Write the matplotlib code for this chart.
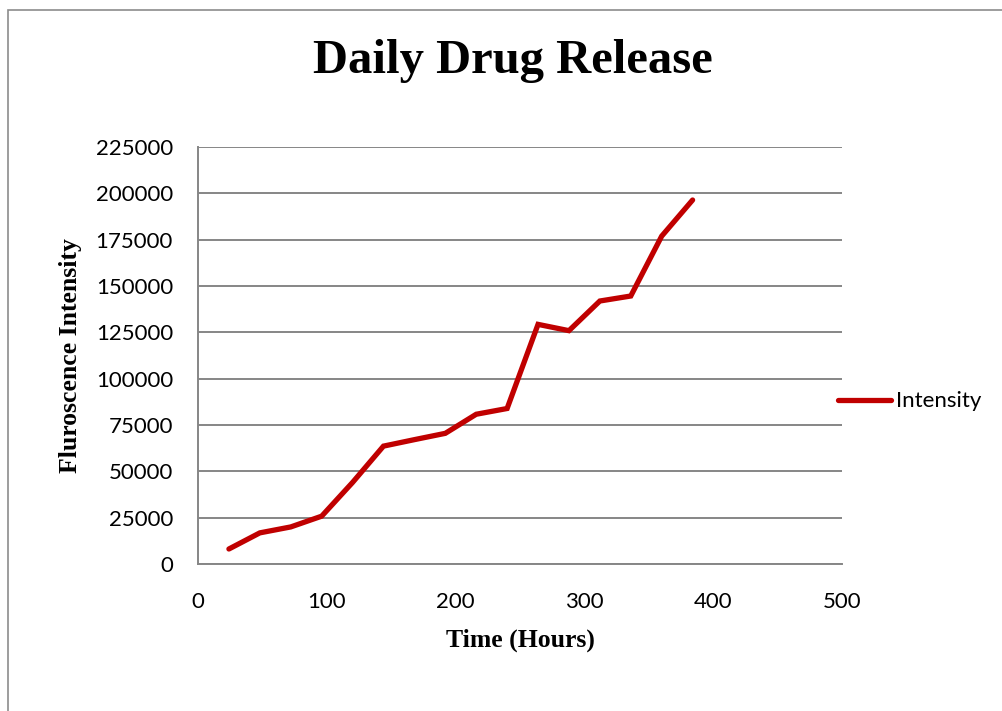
import matplotlib.pyplot as plt
from matplotlib.patches import Rectangle

# release readings, one per day
hours = [24, 48, 72, 96, 120, 144, 168, 192, 216, 240, 264, 288, 312, 336, 360, 384]
intensity = [8100, 16800, 20000, 25800, 44000, 63600, 67100, 70500,
             80800, 83900, 129300, 125900, 141900, 144600, 176900, 196400]

x_ticks = [0, 100, 200, 300, 400, 500]
y_ticks = [0, 25000, 50000, 75000, 100000, 125000, 150000, 175000, 200000, 225000]

GRID = "#868686"
RED = "#C00000"
SERIF = "Liberation Serif"
SANS = "Lato"

fig = plt.figure(figsize=(10.02, 7.11), dpi=100)
fig.patches.append(Rectangle((8 / 1002, -0.05), 1.1, 1 - 10 / 711 + 0.05,
                             transform=fig.transFigure, fill=False,
                             edgecolor="#8c8c8c", linewidth=1.2))

ax = fig.add_axes([198 / 1002, 1 - 564 / 711, 644 / 1002, 417 / 711])
ax.plot(hours, intensity, color=RED, linewidth=3.8, solid_capstyle="round",
        solid_joinstyle="miter", label="Intensity", zorder=3)

ax.set_xlim(0, 500)
ax.set_ylim(0, 225000)
ax.set_xticks(x_ticks)
ax.set_yticks(y_ticks)
ax.set_xticklabels([str(v) for v in x_ticks], fontfamily=SANS, fontsize=16)
ax.set_yticklabels([str(v) for v in y_ticks], fontfamily=SANS, fontsize=16)
ax.tick_params(axis="y", length=0, pad=18)
ax.tick_params(axis="x", length=0, pad=20)

ax.grid(axis="y", color=GRID, linewidth=1.4)
ax.set_axisbelow(True)
for s in ["top", "right"]:
    ax.spines[s].set_visible(False)
for s in ["left", "bottom"]:
    ax.spines[s].set_color(GRID)
    ax.spines[s].set_linewidth(1.4)

ax.set_xlabel("Time (Hours)", fontfamily=SERIF, fontweight="bold", fontsize=18.5, labelpad=12)
ax.set_ylabel("Fluroscence Intensity", fontfamily=SERIF, fontweight="bold", fontsize=18.5, labelpad=10)
fig.text(513 / 1002, 1 - 61 / 711, "Daily Drug Release", ha="center", va="center",
         fontfamily=SERIF, fontweight="bold", fontsize=35)

leg = ax.legend(loc="center left", bbox_to_anchor=(0.962, 0.39), frameon=False,
                prop={"family": SANS, "size": 16}, handlelength=2.4, handletextpad=0.25)

fig.savefig("out.png", dpi=100)
